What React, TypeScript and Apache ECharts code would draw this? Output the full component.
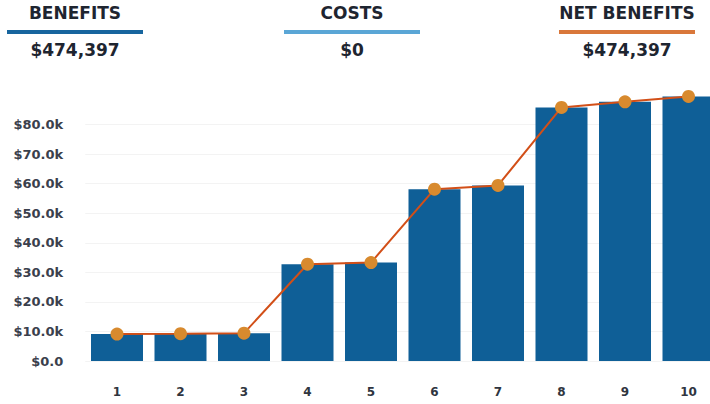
import React, { useEffect, useRef } from "react";
import * as echarts from "echarts";

const years = ["1", "2", "3", "4", "5", "6", "7", "8", "9", "10"];
const benefits = [9120, 9250, 9420, 32750, 33300, 58150, 59400, 85800, 87700, 89507];
const costs = [0, 0, 0, 0, 0, 0, 0, 0, 0, 0];
const netBenefits = benefits.map((b, i) => b - costs[i]);
const headerTitles = ["BENEFITS", "COSTS", "NET BENEFITS"];
const headerColors = ["#17659e", "#5aa6d6", "#d9773a"];

const sum = (a: number[]) => a.reduce((s, v) => s + v, 0);
const money = (v: number) => "$" + v.toLocaleString("en-US");

export default function App() {
  const ref = useRef<HTMLDivElement>(null);
  useEffect(() => {
    document.body.style.margin = "0";
    if (!ref.current) return;
    const chart = echarts.init(ref.current, null, { renderer: "svg" });
    const totals = [sum(benefits), sum(costs), sum(netBenefits)];
    const centers = [75, 352, 627];
    const font = "'DejaVu Sans', sans-serif";
    const graphic: any[] = [];
    headerTitles.forEach((t, i) => {
      graphic.push({
        type: "text",
        x: centers[i],
        y: 13,
        style: { text: t, textAlign: "center", textVerticalAlign: "middle", fontFamily: font, fontSize: 17, fontWeight: 700, fill: "#1e2530" },
      });
      graphic.push({
        type: "rect",
        shape: { x: centers[i] - 68, y: 30, width: 136, height: 4 },
        style: { fill: headerColors[i] },
      });
      graphic.push({
        type: "text",
        x: centers[i],
        y: 50,
        style: { text: money(totals[i]), textAlign: "center", textVerticalAlign: "middle", fontFamily: font, fontSize: 17, fontWeight: 700, fill: "#1e2530" },
      });
    });
    chart.setOption({
      animation: false,
      graphic,
      grid: { left: 85.25, top: 95, width: 635, height: 266, outerBoundsMode: "none", containLabel: false },
      xAxis: {
        type: "category",
        data: years,
        axisLine: { show: false },
        axisTick: { show: false },
        axisLabel: { color: "#2f3540", fontFamily: font, fontWeight: 700, fontSize: 12, margin: 25 },
      },
      yAxis: {
        type: "value",
        min: 0,
        max: 90000,
        interval: 10000,
        axisLabel: {
          showMaxLabel: false,
          color: "#3a404c",
          fontFamily: font,
          fontWeight: 700,
          fontSize: 13,
          margin: 22,
          formatter: (v: number) => (v === 0 ? "$0.0" : "$" + (v / 1000).toFixed(1) + "k"),
        },
        splitLine: { showMaxLine: false, lineStyle: { color: "#f3f3f3" } },
      },
      series: [
        {
          type: "bar",
          name: "Benefits",
          data: benefits,
          barWidth: 52,
          itemStyle: { color: "#0f5f97" },
        },
        {
          type: "line",
          name: "Net Benefits",
          data: netBenefits,
          symbol: "circle",
          symbolSize: 13,
          clip: false,
          lineStyle: { color: "#d24f18", width: 2 },
          itemStyle: { color: "#d88a2e" },
          z: 5,
        },
      ],
    });
    return () => chart.dispose();
  }, []);
  return <div ref={ref} style={{ width: 710, height: 404 }} />;
}
